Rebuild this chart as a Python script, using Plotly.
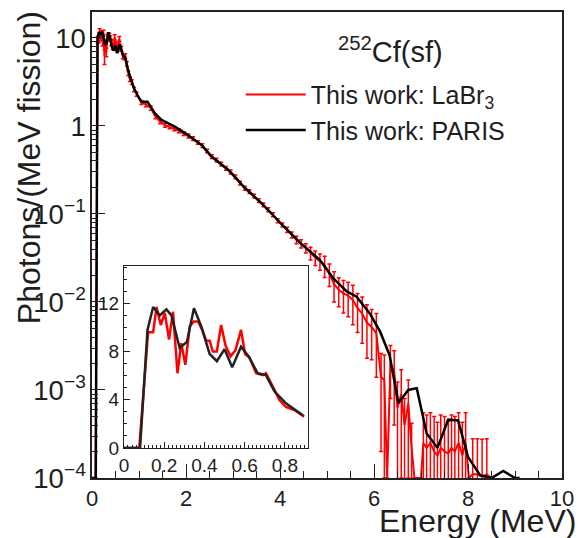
import numpy as np
import plotly.graph_objects as go

# ---------------- data ----------------
black_energy = [0.0, 0.08, 0.117, 0.145, 0.178, 0.211, 0.236, 0.277, 0.313, 0.348,
                0.384, 0.426, 0.462, 0.50, 0.538, 0.582, 0.62, 0.665, 0.706, 0.748,
                0.805, 0.891, 0.985, 1.055, 1.18, 1.34, 1.48, 1.77, 1.98, 2.33,
                2.54, 2.90, 3.26, 3.61, 4.00, 4.43, 4.85, 5.13, 5.42, 5.63,
                5.91, 6.13, 6.33, 6.52, 6.73, 6.91, 7.12, 7.35, 7.58, 7.79,
                8.00, 8.26, 8.50, 8.75, 9.00, 9.10]
black_yield = [0.0, 0.0, 9.8, 11.7, 11.0, 11.5, 11.0, 8.3, 8.8, 11.6,
               10.1, 7.8, 7.2, 8.2, 6.7, 8.4, 7.6, 6.2, 6.05, 4.7,
               3.7, 2.7, 2.15, 1.89, 1.89, 1.39, 1.17, 0.98, 0.83, 0.61,
               0.45, 0.316, 0.196, 0.132, 0.080, 0.047, 0.030, 0.0187, 0.0132, 0.0115,
               0.0074, 0.0046, 0.0025, 0.00071, 0.0010, 0.00105, 0.00032, 0.00022, 0.00046, 0.00045,
               0.000174, 0.000107, 0.0, 0.00012, 0.0, 0.0]

red_energy = [0.0, 0.076, 0.12, 0.145, 0.162, 0.183, 0.203, 0.224, 0.244, 0.266,
              0.285, 0.305, 0.327, 0.348, 0.368, 0.389, 0.409, 0.426, 0.442, 0.462,
              0.483, 0.505, 0.53, 0.554, 0.582, 0.602, 0.624, 0.657, 0.69, 0.706,
              0.74, 0.772, 0.805, 0.847, 0.896,
              0.95, 1.05, 1.15, 1.25, 1.35, 1.45, 1.55, 1.65, 1.75, 1.85,
              1.95, 2.05, 2.15, 2.25, 2.35, 2.45, 2.55, 2.65, 2.75, 2.85,
              2.95, 3.05, 3.15, 3.25, 3.35, 3.45, 3.55, 3.65, 3.75, 3.85,
              3.95, 4.05, 4.15, 4.25, 4.35, 4.45, 4.55, 4.65, 4.75, 4.85,
              4.95, 5.05, 5.15, 5.25, 5.35, 5.45, 5.55, 5.65, 5.75, 5.85,
              5.95, 6.05, 6.15, 6.22, 6.28, 6.35, 6.43, 6.50, 6.58, 6.65,
              6.73, 6.80, 6.86, 7.00, 7.05, 7.12, 7.20, 7.28, 7.35, 7.42,
              7.50, 7.58, 7.65, 7.72, 7.80, 7.88, 7.95, 8.02, 8.10, 8.20,
              8.30, 8.40, 8.50]
red_yield = [0.0, 0.0, 9.6, 9.6, 11.7, 10.2, 11.2, 9.0, 11.3, 6.2,
             8.7, 6.9, 10.1, 10.5, 10.5, 9.8, 8.9, 8.9, 8.0, 8.0,
             10.2, 8.5, 7.6, 8.1, 9.8, 7.8, 7.5, 6.2, 6.05, 6.2,
             5.1, 4.0, 3.4, 3.15, 2.6,
             2.3, 1.85, 1.75, 1.6, 1.28, 1.12, 1.02, 0.98, 0.93, 0.88,
             0.82, 0.77, 0.72, 0.65, 0.60, 0.52, 0.45, 0.41, 0.37, 0.33,
             0.30, 0.265, 0.225, 0.196, 0.18, 0.16, 0.142, 0.127, 0.112, 0.098,
             0.084, 0.075, 0.066, 0.058, 0.051, 0.046, 0.041, 0.036, 0.032, 0.029,
             0.026, 0.021, 0.016, 0.0138, 0.0125, 0.0118, 0.0105, 0.0085, 0.0074, 0.0058,
             0.0052, 0.0044, 0.0014, 0.0013, 0.0, 0.0020, 0.0016, 0.00063, 0.0009, 0.0004,
             0.0007, 0.00022, 0.0, 0.0, 0.00025, 0.00022, 0.00025, 0.0002, 0.00018, 0.00022,
             0.0002, 0.00019, 0.00022, 0.0002, 0.00025, 0.00018, 0.00025, 0.0, 0.00011, 0.00011,
             0.000105, 0.00011, 0.0]
red_error = [0.0, 0.0, 0.8, 0.8, 1.0, 0.9, 0.9, 0.9, 0.9, 1.2,
             0.8, 0.8, 0.8, 0.8, 0.8, 0.7, 0.7, 0.7, 0.6, 0.6,
             0.7, 0.6, 0.6, 0.6, 0.6, 0.5, 0.5, 0.4, 0.4, 0.4,
             0.3, 0.25, 0.2, 0.2, 0.15,
             0.12, 0.1, 0.1, 0.09, 0.07, 0.06, 0.05, 0.05, 0.05, 0.045,
             0.04, 0.04, 0.035, 0.03, 0.03, 0.025, 0.022, 0.02, 0.018, 0.016,
             0.015, 0.013, 0.011, 0.01, 0.009, 0.008, 0.007, 0.0065, 0.006, 0.005,
             0.0045, 0.004, 0.0045, 0.0045, 0.005, 0.005, 0.005, 0.006, 0.006, 0.006,
             0.007, 0.006, 0.006, 0.005, 0.005, 0.005, 0.005, 0.004, 0.004, 0.0035,
             0.003, 0.003, 0.0012, 0.0012, 0.0, 0.0012, 0.0012, 0.0006, 0.0008, 0.0004,
             0.0006, 0.0002, 0.0, 0.0, 0.0003, 0.0003, 0.0003, 0.0003, 0.00025, 0.0003,
             0.0003, 0.00025, 0.0003, 0.0003, 0.0003, 0.00025, 0.0003, 0.0, 0.00017, 0.00017,
             0.00017, 0.00017, 0.0]

main_x_ticks = [0, 2, 4, 6, 8, 10]
inset_x_ticks = [0.0, 0.2, 0.4, 0.6, 0.8]
inset_x_labels = ["0", "0.2", "0.4", "0.6", "0.8"]
inset_y_ticks = [0, 4, 8, 12]

INSET_MAX_E = 0.9
Y_MIN = 1e-4

# ---------------- figure ----------------
FONT = "Liberation Sans, Arial, Helvetica, sans-serif"
TXT = "#1e1e1e"
RED = "#ff0000"
BLACK = "#000000"

red_e = np.array(red_energy)
red_v = np.array(red_yield)
blk_e = np.array(black_energy)
blk_v = np.array(black_yield)

fig = go.Figure()
fig.add_trace(go.Scatter(
    x=red_e, y=np.maximum(red_v, Y_MIN), mode="lines",
    line=dict(color=RED, width=2),
    error_y=dict(type="data", array=red_error, color=RED, thickness=1.5, width=2),
    name="This work: LaBr<sub>3</sub>", xaxis="x", yaxis="y"))
fig.add_trace(go.Scatter(
    x=blk_e, y=np.maximum(blk_v, Y_MIN), mode="lines",
    line=dict(color=BLACK, width=2.5),
    name="This work: PARIS", xaxis="x", yaxis="y"))

rm = red_e <= INSET_MAX_E + 1e-9
bm = blk_e <= INSET_MAX_E + 1e-9
fig.add_trace(go.Scatter(x=red_e[rm], y=red_v[rm], mode="lines",
                         line=dict(color=RED, width=2.5), showlegend=False,
                         xaxis="x2", yaxis="y2"))
fig.add_trace(go.Scatter(x=blk_e[bm], y=blk_v[bm], mode="lines",
                         line=dict(color="#222222", width=2.5), showlegend=False,
                         xaxis="x2", yaxis="y2"))

axis_common = dict(showline=True, linecolor="#222", mirror=True, showgrid=False,
                   zeroline=False, ticks="inside", tickcolor="#222", automargin=False)

# the page body has an 8px default margin, so the figure is 8px smaller
fig.update_layout(
    width=576, height=530, autosize=False,
    margin=dict(l=84, r=22, t=4, b=60),
    paper_bgcolor="white", plot_bgcolor="white",
    font=dict(family=FONT, color=TXT),
    xaxis=dict(**axis_common, domain=[0, 1], anchor="y", range=[0, 10],
               tickmode="array", tickvals=main_x_ticks, ticklen=14, tickwidth=1,
               linewidth=1.5, tickfont=dict(size=22),
               minor=dict(ticks="inside", ticklen=7, dtick=0.5, tickcolor="#222")),
    yaxis=dict(**axis_common, domain=[0, 1], anchor="x", type="log",
               range=[-4, 1.295], dtick=1, exponentformat="power",
               ticklen=13, tickwidth=1, linewidth=1.5, tickfont=dict(size=22),
               minor=dict(ticks="inside", ticklen=6, dtick="D1", tickcolor="#222")),
    xaxis2=dict(**axis_common, domain=[0.068, 0.4596], anchor="y2", range=[0, 0.915],
                tickmode="array", tickvals=inset_x_ticks, ticktext=inset_x_labels,
                ticklen=6, linewidth=1.2, tickfont=dict(size=19),
                minor=dict(ticks="inside", ticklen=3, dtick=0.02, tickcolor="#222")),
    yaxis2=dict(**axis_common, domain=[0.0644, 0.455], anchor="x2", range=[0, 15.1],
                tickmode="array", tickvals=inset_y_ticks,
                ticklen=6, linewidth=1.2, tickfont=dict(size=19),
                minor=dict(ticks="inside", ticklen=3, dtick=1, tickcolor="#222")),
    legend=dict(x=0.3165, y=0.872, xanchor="left", yanchor="top",
                font=dict(size=25, color=TXT), itemwidth=60,
                bgcolor="rgba(0,0,0,0)", borderwidth=0),
    annotations=[
        dict(text="<sup>252</sup>Cf(sf)", xref="paper", yref="paper",
             x=0.635, y=0.918, xanchor="center", yanchor="middle",
             showarrow=False, font=dict(size=29, color=TXT)),
        dict(text="Photons/(MeV fission)", xref="paper", yref="paper",
             x=-0.134, y=0.665, xanchor="center", yanchor="middle",
             textangle=-90, showarrow=False, font=dict(size=32, color=TXT)),
        dict(text="Energy (MeV)", xref="paper", yref="paper",
             x=1.034, y=-0.093, xanchor="right", yanchor="middle",
             showarrow=False, font=dict(size=32, color=TXT)),
    ],
)

fig.write_html("out.html")
